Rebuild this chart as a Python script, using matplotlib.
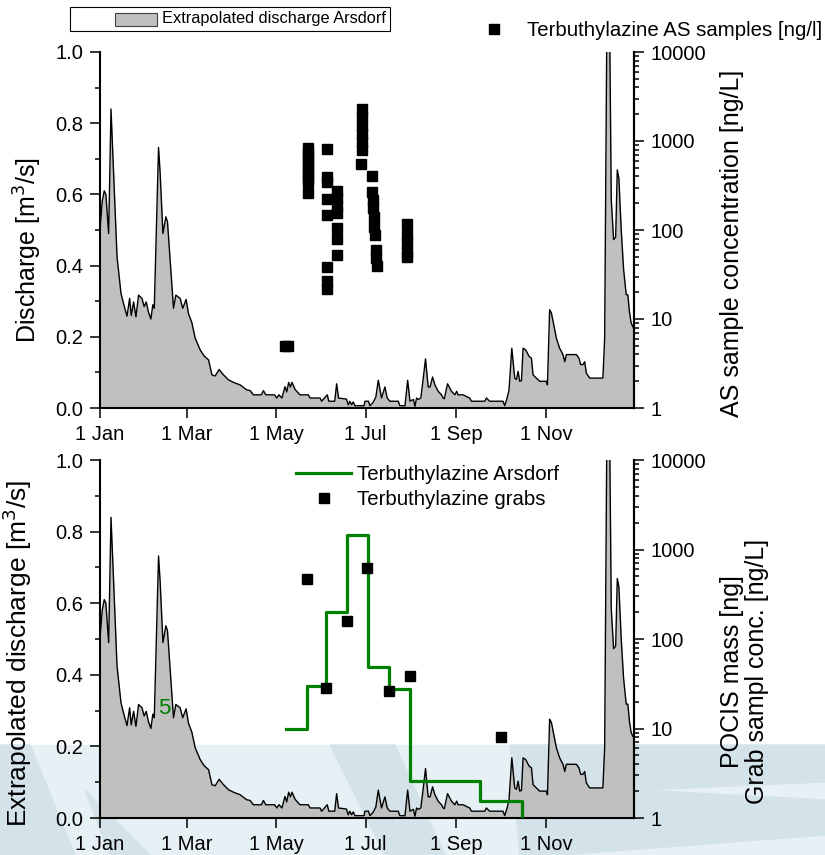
import matplotlib
matplotlib.use("Agg")
import matplotlib.pyplot as plt
from matplotlib.lines import Line2D
from matplotlib.patches import Rectangle, Polygon
from matplotlib.ticker import MultipleLocator, LogLocator, NullFormatter, FixedLocator

plt.rcParams["font.family"] = ["Liberation Sans", "DejaVu Sans"]

# ---------------- data ----------------
# extrapolated discharge Arsdorf, day of year -> m3/s
q_day = [0, 1.5, 2.9, 4.0, 5.9, 7.5, 9.3, 11.6, 14.3, 16, 18.4, 20.2, 21.3, 22.9, 24.5,
         26.3, 28.6, 30.1, 31.5, 33, 34.7, 36, 37, 39.9, 41, 42.9, 44.9, 46, 48.5, 50.1,
         51.7, 54.6, 56.4, 58.7, 60.3, 62.6, 64.9, 68.3, 71, 74, 76.3, 78.5, 81.2, 84.2,
         87.6, 91, 95.5, 100, 102.3, 104.6, 110, 111.4, 113, 119, 120.5, 122, 124, 126.1,
         127.3, 128.6, 129.8, 130.9, 133, 136.3, 142, 143.2, 150, 151.1, 154.9, 156, 160,
         161.3, 162.6, 168, 169.2, 170.3, 171.5, 172.6, 173.8, 180, 180.6, 183, 184, 186,
         188, 189.7, 191.9, 194.2, 195.8, 197.6, 203.3, 204.4, 207.9, 209.7, 211.3, 213.6,
         214.7, 215.8, 217, 218.7, 219.9, 221.9, 223.7, 225, 226.7, 228.3, 230.5, 232.8,
         233.9, 234.7, 236.9, 239.6, 241.9, 243.1, 244.1, 247.5, 252, 253.2, 262.3, 263.4,
         265.6, 274.7, 275.9, 277.5, 278.8, 280.7, 282.7, 283.9, 285, 286.1, 287.3, 288.4,
         290.2, 292.5, 294.1, 295.2, 297.5, 299.7, 304.3, 305, 306.5, 307.7, 311.1, 313.3,
         315.6, 316.8, 317.9, 324.7, 326.5, 327.6, 329.2, 330.4, 331.5, 333.8, 342.8, 344,
         345.5, 347.4, 348.5, 350.1, 351.5, 352.6, 353.7, 355.3, 356.9, 358.7, 359.8, 360.9,
         362, 363.1, 364]
q_val = [0.50, 0.58, 0.61, 0.60, 0.49, 0.84, 0.66, 0.425, 0.322, 0.294, 0.258, 0.308, 0.26,
         0.298, 0.256, 0.317, 0.308, 0.285, 0.298, 0.27, 0.25, 0.29, 0.28, 0.732, 0.66, 0.49,
         0.537, 0.523, 0.377, 0.28, 0.317, 0.308, 0.28, 0.305, 0.265, 0.24, 0.196, 0.163,
         0.146, 0.135, 0.093, 0.09, 0.108, 0.093, 0.079, 0.072, 0.065, 0.051, 0.049, 0.037,
         0.037, 0.049, 0.037, 0.037, 0.028, 0.037, 0.028, 0.06, 0.045, 0.072, 0.059, 0.072,
         0.052, 0.037, 0.037, 0.028, 0.028, 0.019, 0.037, 0.019, 0.019, 0.068, 0.028, 0.025,
         0.009, 0.019, 0.009, 0.017, 0.0065, 0.0065, 0.019, 0.019, 0.0065, 0.015, 0.03, 0.078,
         0.028, 0.059, 0.028, 0.019, 0.019, 0.0065, 0.0065, 0.078, 0.019, 0.024, 0.005, 0.028,
         0.024, 0.028, 0.068, 0.138, 0.059, 0.059, 0.087, 0.065, 0.047, 0.037, 0.028, 0.026,
         0.068, 0.047, 0.037, 0.047, 0.037, 0.037, 0.028, 0.019, 0.019, 0.028, 0.019, 0.019,
         0.0065, 0.028, 0.05, 0.168, 0.084, 0.08, 0.103, 0.075, 0.077, 0.168, 0.163, 0.145,
         0.14, 0.093, 0.084, 0.075, 0.075, 0.065, 0.276, 0.267, 0.196, 0.168, 0.15, 0.13,
         0.15, 0.15, 0.14, 0.122, 0.122, 0.13, 0.098, 0.084, 0.084, 0.196, 1.08, 1.08, 0.585,
         0.473, 0.48, 0.669, 0.645, 0.5, 0.39, 0.318, 0.318, 0.27, 0.24, 0.229, 0.225]

# Terbuthylazine AS samples [ng/L]
as_day = [126, 128,
          141.9, 141.9, 141.9, 141.9, 141.9, 141.9, 141.9, 141.9, 141.9,
          155, 155, 155, 155, 155, 155, 155, 155,
          161.3, 161.3, 161.3, 161.3, 161.3, 161.3, 161.3,
          178.8, 178.8, 178.8, 178.8, 178.8, 178.8, 178.2,
          185.5, 185.6, 186, 186.4, 186.8, 187, 187.4, 188, 188.3, 188.5,
          209.4, 209.4, 209.4, 209.4, 209.4]
as_conc = [5.0, 5.0,
           835, 740, 645, 560, 500, 440, 385, 345, 260,
           813, 390, 345, 223, 147, 38, 27, 22,
           275, 228, 187, 154, 105, 80, 53,
           2290, 1860, 1480, 1200, 970, 790, 548,
           407, 270, 218, 175, 141, 109, 88, 60, 48, 39,
           116, 88, 71, 57, 50]

# POCIS (Terbuthylazine Arsdorf), step start day -> mass [ng]
pocis_day = [126.8, 140.8, 153.8, 168.1, 182.4, 197.1, 211.2, 259.3, 287.9]
pocis_mass = [9.9, 30, 202, 1450, 49, 27.4, 2.6, 1.55, 0.5]

# Terbuthylazine grab samples [ng/L]
grab_day = [140.8, 153.8, 168.1, 181.7, 196.9, 211.2, 273.6]
grab_conc = [468, 28, 160, 625, 26.5, 39, 8.1]

month_day = [0, 59, 120, 181, 243, 304]
month_lbl = ["1 Jan", "1 Mar", "1 May", "1 Jul", "1 Sep", "1 Nov"]

# ---------------- figure ----------------
W, H = 825, 855
fig = plt.figure(figsize=(W / 100, H / 100), dpi=100)


def fx(x):
    return x / W


def fy(y):
    return 1 - y / H


# light-blue watermark band behind the lower panel
LIGHT, DARK = "#e7f0f5", "#d4e3ea"
fig.patches.append(Rectangle((0, 0), 1, fy(745), transform=fig.transFigure,
                             color=LIGHT, zorder=-2))
for poly in [
    [(0, 745), (30, 745), (75, 855), (0, 855)],
    [(85, 790), (150, 855), (110, 855)],
    [(330, 745), (395, 745), (445, 855), (385, 855)],
    [(510, 745), (825, 745), (825, 782), (640, 790), (825, 800), (825, 835), (560, 855), (520, 855)],
]:
    fig.patches.append(Polygon([(fx(x), fy(y)) for x, y in poly], closed=True,
                               transform=fig.transFigure, color=DARK, zorder=-1))

L, R = fx(100), fx(634)
ax_top = fig.add_axes([L, fy(408), R - L, fy(52) - fy(408)])
ax_bot = fig.add_axes([L, fy(818), R - L, fy(460) - fy(818)])

TICK = dict(labelsize=14.5, width=1.1)

for ax in (ax_top, ax_bot):
    ax.set_facecolor("none")
    ax.fill_between(q_day, q_val, 0, color="#c0c0c0", lw=0)
    ax.plot(q_day, q_val, color="black", lw=1.0)
    ax.set_xlim(0, 364)
    ax.set_ylim(0, 1)
    ax.spines["top"].set_visible(False)
    for s in ("left", "bottom", "right"):
        ax.spines[s].set_linewidth(1.5)
    ax.xaxis.set_major_locator(FixedLocator(month_day))
    ax.set_xticklabels(month_lbl)
    ax.yaxis.set_major_locator(MultipleLocator(0.2))
    ax.yaxis.set_minor_locator(MultipleLocator(0.1))
    ax.yaxis.set_major_formatter(matplotlib.ticker.FormatStrFormatter("%.1f"))
    ax.tick_params(axis="y", which="major", direction="out", length=7, pad=5, **TICK)
    ax.tick_params(axis="x", which="major", direction="out", length=7, pad=5, **TICK)
    ax.tick_params(axis="y", which="minor", direction="out", length=3.6, width=1.1)
    ax.tick_params(axis="x", which="minor", bottom=False)

ax_top.set_ylabel("Discharge [m$^3$/s]", fontsize=18)
ax_bot.set_ylabel("Extrapolated discharge [m$^3$/s]", fontsize=19)
ax_top.yaxis.set_label_coords(-0.105, 0.444)
ax_bot.yaxis.set_label_coords(-0.123, 0.46)

twins = []
for ax in (ax_top, ax_bot):
    tw = ax.twinx()
    tw.set_zorder(ax.get_zorder() + 1)
    tw.set_yscale("log")
    tw.set_ylim(1, 10000)
    tw.set_facecolor("none")
    tw.spines["top"].set_visible(False)
    tw.spines["left"].set_visible(False)
    tw.spines["bottom"].set_visible(False)
    tw.spines["right"].set_linewidth(1.5)
    tw.yaxis.set_major_locator(LogLocator(base=10, numticks=10))
    tw.yaxis.set_minor_locator(LogLocator(base=10, subs=range(2, 10), numticks=10))
    tw.yaxis.set_minor_formatter(NullFormatter())
    tw.yaxis.set_major_formatter(matplotlib.ticker.FuncFormatter(lambda v, p: f"{v:g}"))
    tw.tick_params(axis="y", which="major", direction="out", length=7, pad=5, **TICK)
    tw.tick_params(axis="y", which="minor", direction="out", length=3.6, width=1.1)
    twins.append(tw)
tw_top, tw_bot = twins

tw_top.plot(as_day, as_conc, "s", color="black", ms=7.2, ls="none")
tw_top.set_ylabel("AS sample concentration [ng/L]", fontsize=18)
tw_top.yaxis.set_label_coords(1.161, 0.462)

tw_bot.plot(pocis_day, pocis_mass, color="#008000", lw=2.3, drawstyle="steps-post")
tw_bot.plot(grab_day, grab_conc, "s", color="black", ms=7.2, ls="none")
tw_bot.set_ylabel("POCIS mass [ng]\nGrab sampl conc. [ng/L]", fontsize=18, linespacing=1.05)
tw_bot.yaxis.set_label_coords(1.161, 0.41)

ax_bot.text(44, 0.306, "5", color="#008000", fontsize=16, ha="center", va="center")

# legends
fig.patches.append(Rectangle((fx(70), fy(31)), fx(390) - fx(70), fy(7) - fy(31),
                             transform=fig.transFigure, facecolor="white",
                             edgecolor="black", lw=0.8, zorder=3))
fig.patches.append(Rectangle((fx(115), fy(26)), fx(157) - fx(115), fy(13) - fy(26),
                             transform=fig.transFigure, facecolor="#c0c0c0",
                             edgecolor="#404040", lw=0.8, zorder=4))
fig.text(fx(162), fy(19), "Extrapolated discharge Arsdorf", fontsize=11.8,
         ha="left", va="center", zorder=5)

sq = Line2D([], [], marker="s", color="black", ls="none", ms=7.2)
gl = Line2D([], [], color="#008000", lw=2.3)
leg_kw = dict(frameon=False, fontsize=14.7, handlelength=2.7, handletextpad=0.3,
              borderpad=0, borderaxespad=0, labelspacing=0.3, loc="upper left")
fig.legend([sq], ["Terbuthylazine AS samples [ng/l]"],
           bbox_to_anchor=(fx(466), fy(21)), **leg_kw)
fig.legend([gl, sq], ["Terbuthylazine Arsdorf", "Terbuthylazine grabs"],
           bbox_to_anchor=(fx(296), fy(465)), **leg_kw)

fig.savefig("out.png", dpi=100)
